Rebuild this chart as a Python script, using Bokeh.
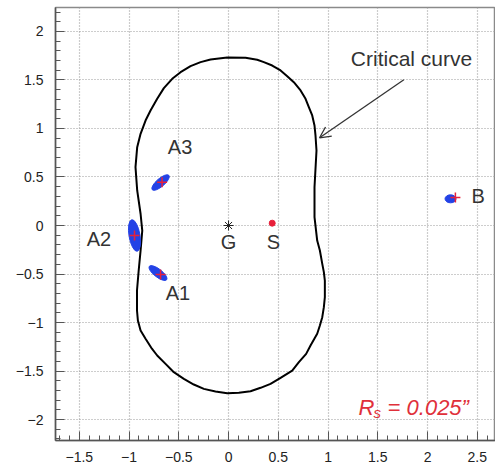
from bokeh.plotting import figure
from bokeh.models import Range1d, FixedTicker, Arrow, OpenHead
from bokeh.core.properties import value
from bokeh.embed import file_html
from bokeh.resources import INLINE

# Critical curve (clockwise from top)
curve_x = [-0.013, 0.171, 0.288, 0.355, 0.439, 0.523, 0.590, 0.656, 0.724, 0.774, 0.807, 0.841,
           0.864, 0.874, 0.884, 0.864, 0.864, 0.891, 0.918, 0.942, 0.958, 0.968, 0.968, 0.958,
           0.942, 0.918, 0.891, 0.824, 0.780, 0.707, 0.640, 0.523, 0.422, 0.322, 0.221, 0.104,
           -0.013, -0.131, -0.248, -0.349, -0.449, -0.550, -0.633, -0.717, -0.770, -0.834, -0.884,
           -0.911, -0.920, -0.920, -0.903, -0.884, -0.867, -0.884, -0.918, -0.935, -0.918, -0.884,
           -0.834, -0.784, -0.717, -0.650, -0.566, -0.482, -0.382, -0.281, -0.181, -0.013]
curve_y = [1.732, 1.729, 1.708, 1.684, 1.649, 1.598, 1.539, 1.477, 1.392, 1.306, 1.220, 1.134,
           1.031, 0.928, 0.773, 0.395, 0.086, -0.155, -0.258, -0.395, -0.481, -0.567, -0.739, -0.842,
           -0.945, -1.031, -1.116, -1.237, -1.323, -1.409, -1.495, -1.570, -1.632, -1.673, -1.708, -1.725,
           -1.729, -1.711, -1.684, -1.639, -1.580, -1.512, -1.426, -1.340, -1.270, -1.168, -1.082,
           -0.979, -0.876, -0.670, -0.464, -0.258, -0.052, 0.121, 0.361, 0.601, 0.807, 0.945,
           1.082, 1.186, 1.306, 1.416, 1.512, 1.580, 1.642, 1.684, 1.711, 1.732]

# Lensed images (blue blobs)
img_x = [-0.683, -0.945, -0.709, 2.231]
img_y = [0.443, -0.103, -0.490, 0.275]
img_len = [22, 32, 22, 11]
img_wid = [8, 11, 8, 8]
img_ang = [0.71, 1.74, -0.66, 0.0]

# Model image positions (red crosses)
cross_x = [-0.668, -0.945, -0.683, 2.28]
cross_y = [0.446, -0.103, -0.505, 0.289]

# Source and galaxy
src_x, src_y = [0.439], [0.024]
gal_x, gal_y = [0.0], [0.0]

# Labels
lab_text = ["A3", "A2", "A1", "G", "S", "B"]
lab_x = [-0.487, -1.302, -0.508, 0.0, 0.452, 2.508]
lab_y = [0.804, -0.134, -0.691, -0.17, -0.17, 0.309]

x_ticks = [-1.5, -1.0, -0.5, 0.0, 0.5, 1.0, 1.5, 2.0, 2.5]
x_tick_labels = ["\u22121.5", "\u22121", "\u22120.5", "0", "0.5", "1", "1.5", "2", "2.5"]
y_ticks = [-2.0, -1.5, -1.0, -0.5, 0.0, 0.5, 1.0, 1.5, 2.0]
y_tick_labels = ["\u22122", "\u22121.5", "\u22121", "\u22120.5", "0", "0.5", "1", "1.5", "2"]

FONT = "Liberation Sans"

p = figure(width=495, height=468, x_range=Range1d(-1.739, 2.683), y_range=Range1d(-2.216, 2.247),
           output_backend="svg", toolbar_location=None,
           min_border_left=55, min_border_right=0, min_border_top=7, min_border_bottom=28)
p.background_fill_color = "white"
p.border_fill_color = "white"
p.outline_line_color = "#8a8a8a"
p.outline_line_width = 1.5

xminor = [round(-1.7 + 0.1 * i, 2) for i in range(44)]
yminor = [round(-2.2 + 0.1 * i, 2) for i in range(45)]
p.xaxis.ticker = FixedTicker(ticks=x_ticks, minor_ticks=xminor)
p.yaxis.ticker = FixedTicker(ticks=y_ticks, minor_ticks=yminor)
p.xaxis.major_label_overrides = {t: l for t, l in zip(x_ticks, x_tick_labels)}
p.yaxis.major_label_overrides = {t: l for t, l in zip(y_ticks, y_tick_labels)}
for ax in (p.xaxis, p.yaxis):
    ax.major_tick_in = 9
    ax.major_tick_out = 0
    ax.minor_tick_in = 5
    ax.minor_tick_out = 0
    ax.axis_line_color = "#555555"
    ax.axis_line_width = 1.5
    ax.major_tick_line_color = "#555555"
    ax.minor_tick_line_color = "#555555"
    ax.major_label_text_font = FONT
    ax.major_label_text_font_size = "14px"
    ax.major_label_text_color = "#222222"
p.yaxis.major_label_standoff = 12
p.xaxis.major_label_standoff = 11

for g in (p.xgrid, p.ygrid):
    g.grid_line_color = "#9a9a9a"
    g.grid_line_dash = "1 2"
    g.grid_line_width = 1.2

p.line(curve_x, curve_y, line_color="black", line_width=2, line_join="round")

p.ellipse(x=img_x, y=img_y, width=img_len, height=img_wid, angle=img_ang,
          width_units="screen", height_units="screen",
          fill_color="#2342e6", line_color="#2342e6")
p.scatter(cross_x, cross_y, marker="cross", size=10, line_color="#e8203a", line_width=1.5)
p.scatter(src_x, src_y, marker="circle", size=6, fill_color="#e8203a", line_color="#e8203a")
p.scatter(gal_x, gal_y, marker="asterisk", size=10, line_color="#222222", line_width=1)

p.text(x=lab_x, y=lab_y, text=lab_text, text_font=value(FONT), text_font_size="20px",
       text_align="center", text_baseline="middle", text_color="#333333")

p.text(x=[1.839], y=[1.722], text=["Critical curve"], text_font=value(FONT),
       text_font_size="21px", text_align="center", text_baseline="middle", text_color="#333333")
p.add_layout(Arrow(end=OpenHead(size=11, line_color="#333333", line_width=1.3),
                   x_start=1.762, y_start=1.502, x_end=0.915, y_end=0.904,
                   line_color="#333333", line_width=1.3))

rs_x, rs_y = [1.307], [-1.873]
p.text(x=rs_x, y=rs_y, text=["R"], text_font=value(FONT), text_font_size="22px",
       text_font_style="italic", text_align="left", text_baseline="alphabetic", text_color="#e0303a")
p.text(x=rs_x, y=rs_y, text=["s"], x_offset=15, y_offset=5, text_font=value(FONT),
       text_font_size="15px", text_font_style="italic", text_align="left",
       text_baseline="alphabetic", text_color="#e0303a")
p.text(x=rs_x, y=rs_y, text=["= 0.025\u201d"], x_offset=29, text_font=value(FONT),
       text_font_size="22px", text_font_style="italic", text_align="left",
       text_baseline="alphabetic", text_color="#e0303a")

open("out.html", "w").write(file_html(p, INLINE))
